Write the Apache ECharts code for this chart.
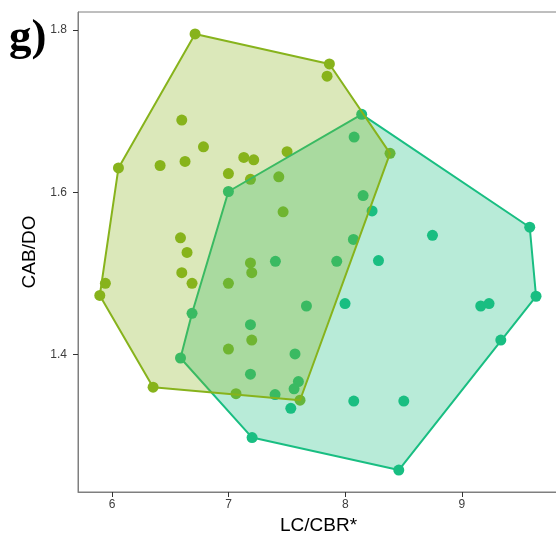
<!DOCTYPE html>
<html>
<head>
<meta charset="utf-8">
<title>LC/CBR* vs CAB/DO</title>
<script src="https://cdn.jsdelivr.net/npm/echarts@6/dist/echarts.min.js"></script>
<style>
  html, body { margin: 0; padding: 0; background: #ffffff; }
  #chart { width: 556px; height: 537px; }
</style>
</head>
<body>
<div id="chart"></div>
<script>
// Group 1 (olive): LC/CBR* and CAB/DO values
const groupA_x = [6.712, 7.864, 7.844, 8.384, 6.598, 6.784, 6.626, 6.412, 6.055, 6.998,
                  7.130, 7.215, 7.501, 7.187, 7.430, 7.467, 6.587, 6.643, 6.598, 6.686,
                  5.943, 5.895, 6.998, 7.187, 7.198, 6.998, 7.198, 6.352, 7.063, 7.612];
const groupA_y = [1.795, 1.758, 1.743, 1.648, 1.689, 1.656, 1.638, 1.633, 1.630, 1.623,
                  1.643, 1.640, 1.650, 1.616, 1.619, 1.576, 1.544, 1.526, 1.501, 1.488,
                  1.488, 1.473, 1.488, 1.513, 1.501, 1.407, 1.418, 1.360, 1.352, 1.344];

// Group 2 (teal)
const groupB_x = [8.141, 9.582, 9.636, 9.334, 8.459, 7.201, 6.587, 6.686, 6.998, 8.076,
                  8.153, 8.230, 8.070, 8.748, 7.401, 7.927, 8.285, 7.667, 7.998, 9.162,
                  9.233, 7.187, 7.569, 7.187, 7.598, 7.561, 7.398, 7.533, 8.073, 8.502];
const groupB_y = [1.696, 1.557, 1.472, 1.418, 1.258, 1.298, 1.396, 1.451, 1.601, 1.668,
                  1.596, 1.577, 1.542, 1.547, 1.515, 1.515, 1.516, 1.460, 1.463, 1.460,
                  1.463, 1.437, 1.401, 1.376, 1.367, 1.358, 1.351, 1.334, 1.343, 1.343];

const xTicks = [6, 7, 8, 9];
const yTicks = [1.4, 1.6, 1.8];

const colorA = '#87B31C';
const colorB = '#19BE82';
const fillA = 'rgba(135,179,28,0.30)';
const fillB = 'rgba(25,190,130,0.31)';

function zip(xs, ys) { return xs.map((x, i) => [x, ys[i]]); }

// Monotone-chain convex hull
function convexHull(pts) {
  const p = pts.slice().sort((a, b) => a[0] - b[0] || a[1] - b[1]);
  const cross = (o, a, b) => (a[0] - o[0]) * (b[1] - o[1]) - (a[1] - o[1]) * (b[0] - o[0]);
  const lower = [];
  for (const q of p) {
    while (lower.length >= 2 && cross(lower[lower.length - 2], lower[lower.length - 1], q) <= 0) lower.pop();
    lower.push(q);
  }
  const upper = [];
  for (let i = p.length - 1; i >= 0; i--) {
    const q = p[i];
    while (upper.length >= 2 && cross(upper[upper.length - 2], upper[upper.length - 1], q) <= 0) upper.pop();
    upper.push(q);
  }
  upper.pop(); lower.pop();
  return lower.concat(upper);
}

const ptsA = zip(groupA_x, groupA_y);
const ptsB = zip(groupB_x, groupB_y);
const hullA = convexHull(ptsA);
const hullB = convexHull(ptsB);

// Filled hull outline drawn above the points
function hullSeries(hull, stroke, fill, z) {
  return {
    type: 'custom',
    z: z,
    silent: true,
    data: [[hull[0][0], hull[0][1]]],
    renderItem: function (params, api) {
      const points = hull.map(h => api.coord(h));
      return {
        type: 'polygon',
        shape: { points: points },
        style: { fill: fill, stroke: stroke, lineWidth: 2, lineJoin: 'round' }
      };
    }
  };
}

const chart = echarts.init(document.getElementById('chart'), null, { renderer: 'canvas' });

chart.setOption({
  animation: false,
  backgroundColor: '#ffffff',
  grid: {
    left: 78, top: 12, width: 481, height: 480,
    outerBoundsMode: 'none',
    show: true, borderColor: '#7f7f7f', borderWidth: 1, backgroundColor: 'transparent'
  },
  graphic: [{
    type: 'text',
    left: 9, top: 16,
    style: {
      text: 'g)',
      font: 'bold 45px "Liberation Serif", "DejaVu Serif", serif',
      fill: '#000000'
    }
  }],
  xAxis: {
    type: 'value',
    min: 5.708, max: 9.833,
    name: 'LC/CBR*',
    nameLocation: 'middle',
    nameGap: 21,
    nameTextStyle: { color: '#000000', fontSize: 19, fontFamily: 'Liberation Sans, Arial, sans-serif', verticalAlign: 'top' },
    axisLine: { show: true, onZero: false, lineStyle: { color: '#7f7f7f', width: 1 } },
    axisTick: { show: true, length: 5, customValues: xTicks, lineStyle: { color: '#333333' } },
    axisLabel: { customValues: xTicks, margin: 7, color: '#3d3d3d', fontSize: 12, fontFamily: 'Liberation Sans, Arial, sans-serif' },
    splitLine: { show: false }
  },
  yAxis: {
    type: 'value',
    min: 1.231, max: 1.822,
    name: 'CAB/DO',
    nameLocation: 'middle',
    nameGap: 31,
    nameRotate: 90,
    nameTextStyle: { color: '#000000', fontSize: 19, fontFamily: 'Liberation Sans, Arial, sans-serif' },
    axisLine: { show: true, onZero: false, lineStyle: { color: '#7f7f7f', width: 1 } },
    axisTick: { show: true, length: 5, customValues: yTicks, lineStyle: { color: '#333333' } },
    axisLabel: {
      customValues: yTicks, margin: 11, color: '#3d3d3d', fontSize: 12,
      fontFamily: 'Liberation Sans, Arial, sans-serif',
      formatter: v => v.toFixed(1)
    },
    splitLine: { show: false }
  },
  series: [
    {
      type: 'scatter', z: 1, data: ptsA, symbolSize: 11,
      itemStyle: { color: colorA, opacity: 1 }
    },
    {
      type: 'scatter', z: 1, data: ptsB, symbolSize: 11,
      itemStyle: { color: colorB, opacity: 1 }
    },
    hullSeries(hullB, colorB, fillB, 3),
    hullSeries(hullA, colorA, fillA, 4)
  ]
});
</script>
</body>
</html>
